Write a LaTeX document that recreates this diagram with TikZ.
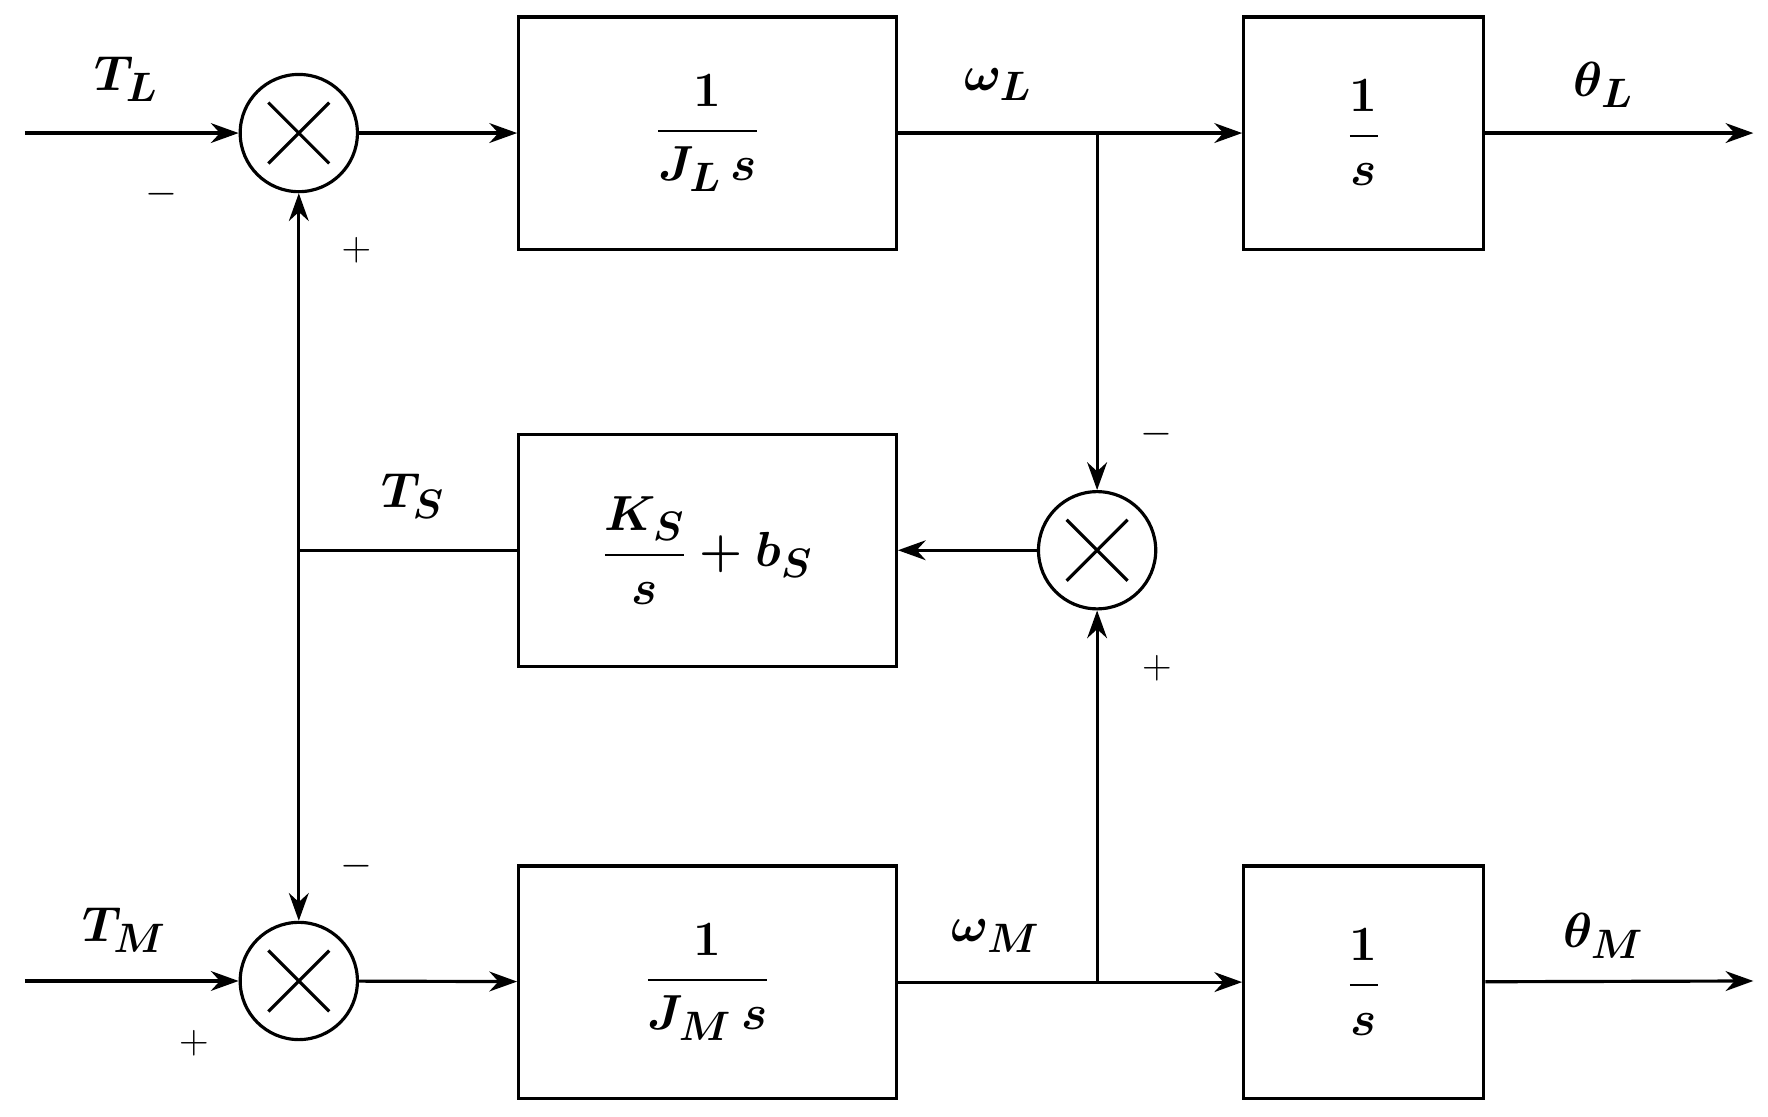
\documentclass[tikz,border=0pt]{standalone}
\usepackage{amsmath}
\usetikzlibrary{arrows.meta}
\begin{document}
\begin{tikzpicture}[x=0.02cm,y=-0.02cm,
  every node/.style={font=\fontsize{30}{34}\selectfont\boldmath},
  blk/.style={draw,line width=1.6pt,minimum width=6.7cm,minimum height=4.12cm,inner sep=0},
  blks/.style={draw,line width=1.6pt,minimum width=4.26cm,minimum height=4.12cm,inner sep=0},
  sum/.style={draw,circle,line width=1.6pt,minimum size=2.08cm,inner sep=0},
  ln/.style={line width=1.6pt},
  ar/.style={line width=1.6pt,-{Stealth[length=14pt,width=10pt]}},
  sg/.style={font=\fontsize{20}{24}\selectfont}]
\useasboundingbox (0,0) rectangle (1568,990);
\node[sum] (s1) at (265,118) {};
\node[sum] (s2) at (265,870) {};
\node[sum] (s3) at (973,488) {};
\foreach \s in {s1,s2,s3}{\draw[ln] ([shift={(-27,-27)}]\s.center)--([shift={(27,27)}]\s.center) ([shift={(27,-27)}]\s.center)--([shift={(-27,27)}]\s.center);}
\node[blk] (b1) at (627.5,118) {$\dfrac{1}{J_L\,s}$};
\node[blk] (b2) at (627.5,488) {$\dfrac{K_S}{s}+b_S$};
\node[blk] (b3) at (627.5,871) {$\dfrac{1}{J_M\,s}$};
\node[blks] (i1) at (1209.5,118) {$\dfrac{1}{s}$};
\node[blks] (i2) at (1209.5,871) {$\dfrac{1}{s}$};
\coordinate (inL) at (22,118);
\coordinate (inM) at (22,870);
\coordinate (outL) at (1555,118);
\coordinate (outM) at (1555,870);
\coordinate (jL) at (973,118);
\coordinate (jM) at (973,870);
\coordinate (jT) at (265,488);
\draw[ar] (inL)--(s1);
\draw[ar] (inM)--(s2);
\draw[ar] (s1)--(b1);
\draw[ar] (s2)--(b3);
\draw[ar] (b1)--(i1);
\draw[ar] (b3)--(i2);
\draw[ar] (i1)--(outL);
\draw[ar] (i2)--(outM);
\draw[ar] (jL)--(s3);
\draw[ar] (jM)--(s3);
\draw[ar] (s3)--(b2);
\draw[ln] (b2)--(jT);
\draw[ar] (jT)--(s1);
\draw[ar] (jT)--(s2);
\node at (112,70) {$T_L$};
\node at (110,825) {$T_M$};
\node at (885,75) {$\omega_L$};
\node at (883,830) {$\omega_M$};
\node at (1422,75) {$\theta_L$};
\node at (1422,830) {$\theta_M$};
\node at (366,440) {$T_S$};
\node[sg] at (143,172) {$-$};
\node[sg] at (316,222) {$+$};
\node[sg] at (1026,385) {$-$};
\node[sg] at (1026,593) {$+$};
\node[sg] at (316,768) {$-$};
\node[sg] at (172,925) {$+$};
\end{tikzpicture}
\end{document}
